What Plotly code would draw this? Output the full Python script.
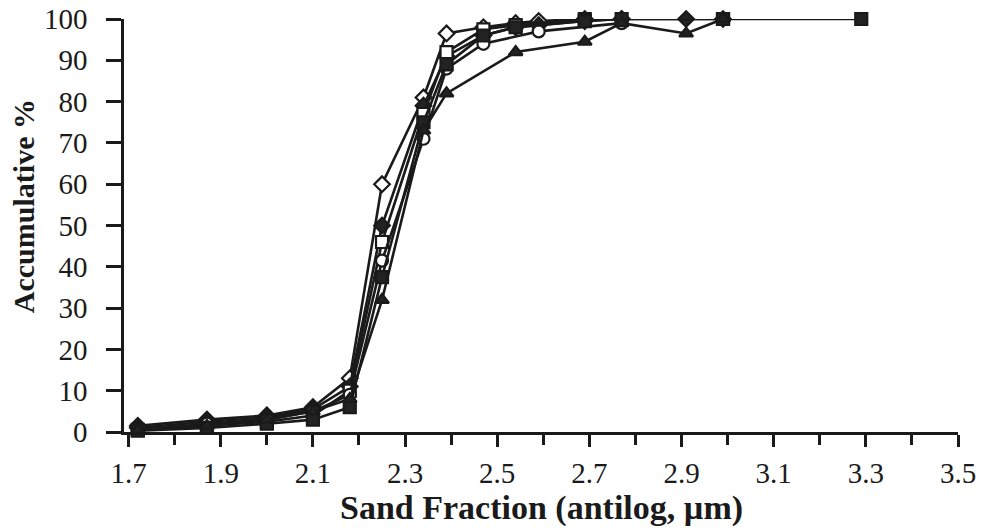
import plotly.graph_objects as go

# Data (x = log10 of sieve size, y = accumulative %)
xA = [1.72, 1.87, 2.0, 2.1, 2.18, 2.25, 2.34, 2.39, 2.47, 2.54, 2.59, 2.69, 2.77]
yA = [1.5, 3, 4, 6, 13, 60, 81, 96.5, 98, 99, 99.5, 100, 100]

xB = [1.72, 1.87, 2.0, 2.1, 2.18, 2.25, 2.34, 2.39, 2.47, 2.54, 2.59, 2.69, 2.77, 2.91, 2.99]
yB = [1, 2.5, 3.5, 5.5, 11, 50, 79, 91, 96, 98, 98.5, 99.5, 100, 100, 100]

xC = [1.72, 1.87, 2.0, 2.1, 2.18, 2.25, 2.34, 2.39, 2.47, 2.54, 2.69, 2.91, 2.99]
yC = [0.5, 1.5, 2.5, 4, 10, 46, 77, 92, 97.5, 98.5, 100, 100.5, 100]

xD = [1.72, 1.87, 2.0, 2.1, 2.18, 2.25, 2.34, 2.39, 2.47, 2.59, 2.77]
yD = [0.5, 2, 3, 5, 9, 41.5, 71, 88, 94, 97, 99]

xE = [1.72, 1.87, 2.0, 2.1, 2.18, 2.25, 2.34, 2.39, 2.47, 2.54, 2.69, 2.77, 2.99, 3.29]
yE = [0.3, 1, 2, 3, 6, 37.5, 75, 89, 96, 98, 99.5, 100, 100, 100]

xF = [1.72, 1.87, 2.0, 2.1, 2.18, 2.25, 2.34, 2.39, 2.54, 2.69, 2.77, 2.91, 2.99]
yF = [0.5, 1.5, 3, 5, 8, 32, 73, 82, 92, 94.5, 99, 96.5, 100]

x_ticks = [1.7, 1.9, 2.1, 2.3, 2.5, 2.7, 2.9, 3.1, 3.3, 3.5]
y_ticks = [0, 10, 20, 30, 40, 50, 60, 70, 80, 90, 100]

series = [
    (xA, yA, "diamond", "white"),
    (xB, yB, "diamond", "#222"),
    (xC, yC, "square", "white"),
    (xD, yD, "circle", "white"),
    (xE, yE, "square", "#222"),
    (xF, yF, "triangle-up", "#222"),
]

fig = go.Figure()
for xs, ys, sym, fill in series:
    fig.add_trace(go.Scatter(
        x=xs, y=ys, mode="lines+markers",
        line=dict(color="#1a1a1a", width=2.6),
        marker=dict(symbol=sym, size=12, color=fill,
                    line=dict(color="#1a1a1a", width=2.2)),
        cliponaxis=False, showlegend=False,
    ))

font_family = "Liberation Serif, Times New Roman, serif"

fig.update_layout(
    width=983, height=531,
    margin=dict(l=124, r=25, t=19, b=99),
    paper_bgcolor="white", plot_bgcolor="white",
    font=dict(family=font_family, color="#1a1a1a"),
    xaxis=dict(
        range=[1.69, 3.5], tickvals=x_ticks, ticktext=[f"{v:.1f}" for v in x_ticks],
        showgrid=False, zeroline=False, showline=True, linecolor="#1a1a1a", linewidth=2.5,
        ticks="outside", ticklen=12, tickwidth=2.5, tickcolor="#1a1a1a",
        minor=dict(dtick=0.1, tick0=1.7, ticks="outside", ticklen=10, tickwidth=2.5,
                   tickcolor="#1a1a1a", showgrid=False),
        tickfont=dict(size=29, family=font_family),
        ticklabelstandoff=1, automargin=False,
    ),
    yaxis=dict(
        range=[0, 100], tickvals=y_ticks,
        showgrid=False, zeroline=False, showline=True, linecolor="#1a1a1a", linewidth=2.5,
        ticks="outside", ticklen=15, tickwidth=2.5, tickcolor="#1a1a1a",
        tickfont=dict(size=29, family=font_family),
        ticklabelstandoff=13, automargin=False,
    ),
    annotations=[
        dict(text="<b>Sand Fraction (antilog, µm)</b>", xref="paper", yref="paper",
             x=0.5, y=-0.184, xanchor="center", yanchor="middle", showarrow=False,
             font=dict(size=34, family=font_family, color="#1a1a1a")),
        dict(text="<b>Accumulative %</b>", xref="paper", yref="paper",
             x=-0.121, y=0.547, xanchor="center", yanchor="middle", showarrow=False,
             textangle=-90,
             font=dict(size=30, family=font_family, color="#1a1a1a")),
    ],
)

fig.write_html("out.html")
